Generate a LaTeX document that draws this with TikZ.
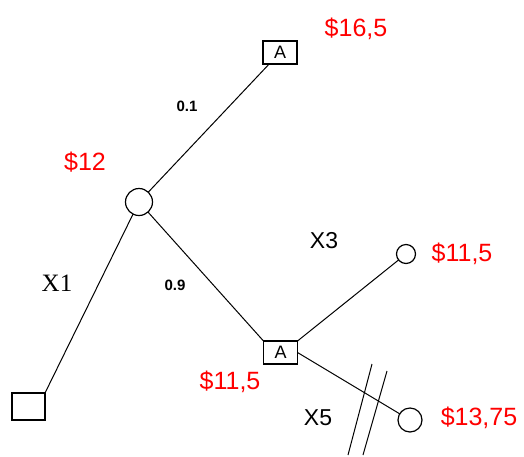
\documentclass[tikz,border=0pt]{standalone}
\usepackage{fontspec}
\setmainfont{Liberation Sans}
\newfontfamily\timesfont{Liberation Serif}
\begin{document}
\begin{tikzpicture}[x=1pt,y=-1pt,
  every node/.style={inner sep=0pt,outer sep=0pt},
  ln/.style={draw=black,line width=1pt},
  decbox/.style={draw=black,line width=1.4pt,minimum width=33pt,minimum height=27pt},
  abox/.style={draw=black,line width=1.3pt,minimum width=34pt,minimum height=23pt,font=\fontsize{18}{18}\selectfont},
  chance/.style={draw=black,line width=1.2pt,circle},
  money/.style={text=red,font=\fontsize{25}{25}\selectfont},
  xlab/.style={font=\fontsize{23}{23}\selectfont},
  prob/.style={font=\bfseries\fontsize{15}{15}\selectfont}]
\useasboundingbox (0,0) rectangle (524,456);
\node[decbox] (d) at (28.5,406.5) {};
\node[chance,minimum size=27pt] (c1) at (139,202) {};
\node[abox] (a1) at (280,52.5) {A};
\node[abox] (a2) at (280.5,352.5) {A};
\node[chance,minimum size=19pt] (c2) at (406,254) {};
\node[chance,minimum size=24pt] (c3) at (410,420) {};
\draw[ln] (d.north east) -- (c1);
\draw[ln] (c1) -- (a1);
\draw[ln] (c1) -- (a2.north west);
\draw[ln] (a2.north east) -- (c2);
\draw[ln] (a2.east) -- (c3);
\coordinate (s1a) at (372,364);
\coordinate (s1b) at (348,455);
\coordinate (s2a) at (387,371);
\coordinate (s2b) at (363,455);
\draw[ln] (s1a) -- (s1b);
\draw[ln] (s2a) -- (s2b);
\node[money] (m1) at (356,29) {\$16,5};
\node[money] (m2) at (85,162) {\$12};
\node[money] (m3) at (462,254) {\$11,5};
\node[money] (m4) at (230,382) {\$11,5};
\node[money] (m5) at (479,418) {\$13,75};
\node[prob] (p1) at (187,106) {0.1};
\node[prob] (p2) at (175,285) {0.9};
\node[xlab,font=\timesfont\fontsize{25}{25}\selectfont] (x1) at (57,283) {X1};
\node[xlab] (x3) at (324,241) {X3};
\node[xlab] (x5) at (318,418) {X5};
\end{tikzpicture}
\end{document}
